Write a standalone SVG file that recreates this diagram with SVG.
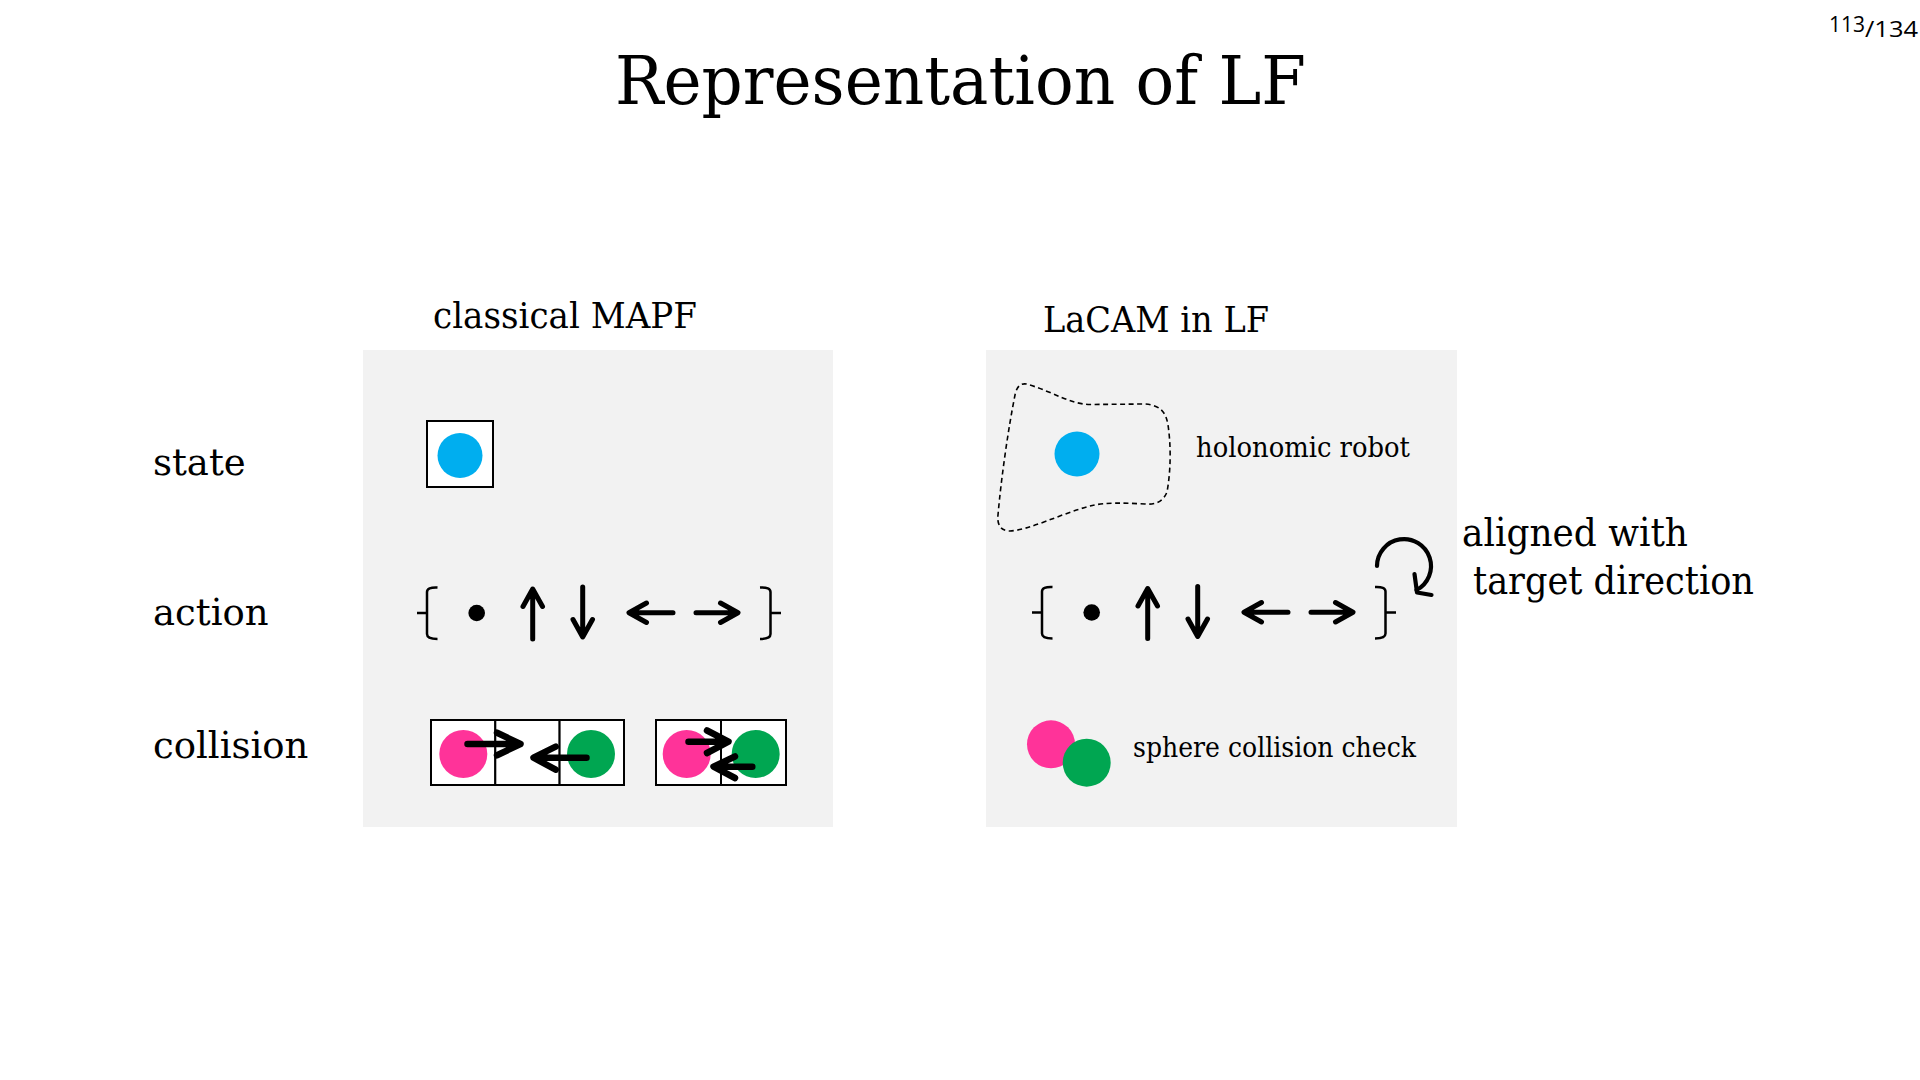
<svg xmlns="http://www.w3.org/2000/svg" xmlns:xlink="http://www.w3.org/1999/xlink" width="1920" height="1080" viewBox="0 0 1920 1080">
<style>
.serif{font-family:"DejaVu Serif","Liberation Serif",serif;fill:#000}
.panel{fill:#f2f2f2}
.cell{fill:#fff;stroke:#000;stroke-width:2}
.blue{fill:#00aeef}
.pink{fill:#ff3399}
.green{fill:#00a651}
.br{fill:none;stroke:#000;stroke-width:2.5;stroke-linecap:butt}
.ar{fill:none;stroke:#000;stroke-width:5;stroke-linecap:round;stroke-linejoin:round}
.car{fill:none;stroke:#000;stroke-width:6.5;stroke-linecap:round;stroke-linejoin:round}
</style>
<defs>
<g id="actionset">
<path class="br" d="M437.5,587.5 Q427,587 427,592 L427,634 Q427,639 437.5,639 M417,613 L427,613"/>
<path class="br" d="M760,587.5 Q770.5,587 770.5,592 L770.5,634 Q770.5,639 760,639 M770.5,613 L781,613"/>
<circle cx="476.7" cy="613" r="8.3"/>
<path class="ar" d="M532.7,639 L532.7,590 M523,606.5 L532.7,589 L542.5,606.5"/>
<path class="ar" d="M582.7,587 L582.7,636 M573,619.5 L582.7,637 L592.5,619.5"/>
<path class="ar" d="M673,612.7 L630,612.7 M646.5,603 L629,612.7 L646.5,622.5"/>
<path class="ar" d="M696,612.7 L737,612.7 M720.5,603 L738,612.7 L720.5,622.5"/>
</g>
</defs>
<rect width="1920" height="1080" fill="#fff"/>

<g id="title">
<text class="serif" x="615" y="104" font-size="68" textLength="691" lengthAdjust="spacingAndGlyphs">Representation of LF</text>
</g>
<g id="page">
<text x="1829" y="32" font-family="'Open Sans','Noto Sans',sans-serif" font-size="22" textLength="36" lengthAdjust="spacingAndGlyphs">113</text>
<text x="1865" y="37" font-family="'Open Sans','Noto Sans',sans-serif" font-size="22" textLength="53" lengthAdjust="spacingAndGlyphs">/134</text>
</g>

<g id="row-labels">
<text class="serif" x="153" y="475" font-size="37">state</text>
<text class="serif" x="153" y="625" font-size="37">action</text>
<text class="serif" x="153" y="758" font-size="37">collision</text>
</g>

<g id="classical-mapf">
<text class="serif" x="433" y="328" font-size="35" textLength="264" lengthAdjust="spacingAndGlyphs">classical MAPF</text>
<rect class="panel" x="363" y="350" width="470" height="477"/>
<g id="classical-state">
<rect class="cell" x="427" y="421" width="66" height="66"/>
<circle class="blue" cx="460" cy="455.5" r="22.5"/>
</g>
<g id="classical-action">
<use xlink:href="#actionset"/>
</g>
<g id="classical-collision-vertex">
<rect class="cell" x="431" y="720" width="64.3" height="65"/>
<rect class="cell" x="495.3" y="720" width="64.3" height="65"/>
<rect class="cell" x="559.6" y="720" width="64.4" height="65"/>
<circle class="pink" cx="463.3" cy="754" r="24"/>
<circle class="green" cx="591" cy="754" r="24"/>
<path class="car" d="M467.5,744 L518,744 M497,732.7 L520.5,744 L497,755.3"/>
<path class="car" d="M586.5,757.7 L536,757.7 M555.7,746.7 L533.5,757.7 L555.7,769.7"/>
</g>
<g id="classical-collision-swap">
<rect class="cell" x="656" y="720" width="65" height="65"/>
<rect class="cell" x="721" y="720" width="65" height="65"/>
<circle class="pink" cx="686.7" cy="754" r="24"/>
<circle class="green" cx="755.7" cy="754" r="24"/>
<path class="car" d="M688.5,741.7 L726,741.7 M707,730.5 L728.5,741.7 L707,753"/>
<path class="car" d="M752.3,766.7 L716,766.7 M735,756.5 L713.5,766.7 L735,778"/>
</g>
</g>

<g id="lacam-in-lf">
<text class="serif" x="1043" y="332" font-size="35" textLength="226" lengthAdjust="spacingAndGlyphs">LaCAM in LF</text>
<rect class="panel" x="986" y="350" width="471" height="477"/>
<g id="lacam-state">
<path d="M1030,385 C1055,393 1070,404 1090,404.5 L1145,404 C1160,405 1166,412 1168,425 C1171,445 1171,470 1167,492 C1163,502 1155,505 1145,504 C1125,503 1105,502 1090,506 C1060,514 1030,530 1010,531 C1000,531 997,524 998,515 C1001,480 1008,430 1015,395 C1017,385 1022,382 1030,385 Z" fill="none" stroke="#000" stroke-width="1.6" stroke-dasharray="5,3.5"/>
<circle class="blue" cx="1077" cy="454" r="22.5"/>
<text class="serif" x="1196" y="457" font-size="27" textLength="214" lengthAdjust="spacingAndGlyphs">holonomic robot</text>
</g>
<g id="lacam-action">
<use xlink:href="#actionset" transform="translate(615,-0.5)"/>
<path d="M1377,566 A27,27 0 1 1 1416.5,590" fill="none" stroke="#000" stroke-width="4.2" stroke-linecap="round"/>
<path d="M1414.5,574 L1417,592.5 L1431.5,595" fill="none" stroke="#000" stroke-width="4.2" stroke-linecap="round" stroke-linejoin="round"/>
</g>
<g id="lacam-collision">
<circle class="pink" cx="1051" cy="744.3" r="24"/>
<circle class="green" cx="1086.7" cy="762.7" r="24"/>
<text class="serif" x="1133" y="757" font-size="27" textLength="283" lengthAdjust="spacingAndGlyphs">sphere collision check</text>
</g>
</g>

<g id="note">
<text class="serif" x="1462" y="546" font-size="39" textLength="226" lengthAdjust="spacingAndGlyphs">aligned with</text>
<text class="serif" x="1473" y="594" font-size="39" textLength="281" lengthAdjust="spacingAndGlyphs">target direction</text>
</g>

<g id="connectors"/>
</svg>
